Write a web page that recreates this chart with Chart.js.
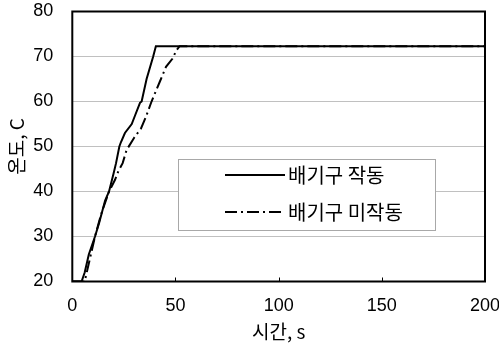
<!DOCTYPE html>
<html>
<head>
<meta charset="utf-8">
<script src="https://cdn.jsdelivr.net/npm/chart.js@4"></script>
<style>
html,body{margin:0;padding:0;background:#fff;}
#wrap{position:relative;width:499px;height:345px;}
</style>
</head>
<body>
<div id="wrap"><canvas id="c" width="499" height="345"></canvas></div>
<script>
// ---- data ----
const seriesNames = ['배기구 작동', '배기구 미작동'];
const ventOnTime = [0, 4.5, 6, 8, 11, 13, 15.9, 17.8, 20, 21.2, 22.8, 23.6, 25.5, 28.8, 30.5, 32.8, 33.6, 36, 39.2, 40.5, 200];
const ventOnTemp = [20, 20, 22, 26, 30, 33, 38, 40, 44, 46.3, 50, 51, 53, 55, 57, 59.7, 60, 65, 70, 72.3, 72.3];
const ventOffTime = [0, 6, 8, 11, 14, 17.8, 20.7, 22.3, 24.4, 26.3, 29.9, 33.3, 35.7, 38.4, 42.5, 45.4, 48.5, 50.5, 52, 200];
const ventOffTemp = [20, 20, 24, 30, 35, 40, 42.6, 44.5, 46.3, 49.2, 51.9, 54, 56.6, 60, 64.5, 67.7, 69.5, 71.4, 72.3, 72.3];
const xTicks = [0, 50, 100, 150, 200];
const yTicks = [20, 30, 40, 50, 60, 70, 80];
const xTitle = '시간, s';
const yTitle = '온도, C';

const toPts = (xs, ys) => xs.map((x, i) => ({x: x, y: ys[i]}));
const tickFont = {family: "'Liberation Sans', Arial, sans-serif", size: 18};
const korFont = "'Noto Sans CJK KR', 'Noto Sans', sans-serif";

const framePlugin = {
  id: 'frame',
  beforeDatasetsDraw(chart) {
    const {ctx, chartArea: a} = chart;
    const xs = chart.scales.x;
    ctx.save();
    ctx.strokeStyle = '#000';
    ctx.lineWidth = 1;
    xTicks.slice(1, -1).forEach(v => {
      const px = Math.round(xs.getPixelForValue(v)) + 0.5;
      ctx.beginPath(); ctx.moveTo(px, a.bottom); ctx.lineTo(px, a.bottom - 4); ctx.stroke();
    });
    ctx.restore();
  },
  afterDatasetsDraw(chart) {
    const {ctx, chartArea: a} = chart;
    ctx.save();
    ctx.strokeStyle = '#000';
    ctx.lineWidth = 2;
    ctx.strokeRect(a.left, a.top, a.right - a.left, a.bottom - a.top);
    ctx.restore();
  },
  afterDraw(chart) {
    const {ctx} = chart;
    const bx = 178.5, by = 159.5, bw = 257, bh = 71;
    ctx.save();
    ctx.fillStyle = '#fff';
    ctx.fillRect(bx, by, bw, bh);
    ctx.strokeStyle = '#a8a8a8';
    ctx.lineWidth = 1;
    ctx.strokeRect(bx, by, bw, bh);
    const rows = [175, 212];
    chart.data.datasets.forEach((ds, i) => {
      ctx.strokeStyle = '#000';
      ctx.lineWidth = 2;
      ctx.setLineDash(ds.borderDash || []);
      ctx.beginPath(); ctx.moveTo(225, rows[i]); ctx.lineTo(285, rows[i]); ctx.stroke();
      ctx.setLineDash([]);
      ctx.fillStyle = '#000';
      ctx.font = '20px ' + korFont;
      ctx.textBaseline = 'middle';
      ctx.textAlign = 'left';
      ctx.fillText(ds.label, 288, rows[i]);
    });
    ctx.restore();
  }
};

new Chart(document.getElementById('c'), {
  type: 'line',
  data: {
    datasets: [
      {label: seriesNames[0], data: toPts(ventOnTime, ventOnTemp), borderColor: '#000', borderWidth: 2, pointRadius: 0, tension: 0, fill: false},
      {label: seriesNames[1], data: toPts(ventOffTime, ventOffTemp), borderColor: '#000', borderWidth: 2, borderDash: [12, 4, 2, 4], pointRadius: 0, tension: 0, fill: false}
    ]
  },
  options: {
    responsive: false,
    animation: false,
    devicePixelRatio: 1,
    layout: {padding: {top: 11.5, right: 14, left: 0, bottom: 0}},
    plugins: {legend: {display: false}, tooltip: {enabled: false}},
    scales: {
      x: {
        type: 'linear', min: 0, max: 200,
        afterBuildTicks: s => { s.ticks = xTicks.map(v => ({value: v})); },
        afterFit: s => { s.height = 63.5; s.paddingLeft = 0; s.paddingRight = 0; },
        grid: {display: false, drawTicks: false},
        border: {display: false},
        ticks: {font: tickFont, color: '#000', padding: 14, maxRotation: 0},
        title: {display: true, text: xTitle, color: '#000', font: {family: korFont, size: 19}, padding: {top: 0, bottom: 2}}
      },
      y: {
        type: 'linear', min: 20, max: 80,
        afterBuildTicks: s => { s.ticks = yTicks.map(v => ({value: v})); },
        afterFit: s => { s.width = 72.3; s.paddingTop = 0; s.paddingBottom = 0; },
        grid: {color: '#c0c0c0', lineWidth: 1, drawTicks: false},
        border: {display: false},
        ticks: {font: tickFont, color: '#000', padding: 19},
        title: {display: true, text: yTitle, color: '#000', font: {family: korFont, size: 19}, padding: {top: 5, bottom: 0}}
      }
    }
  },
  plugins: [framePlugin]
});
</script>
</body>
</html>
